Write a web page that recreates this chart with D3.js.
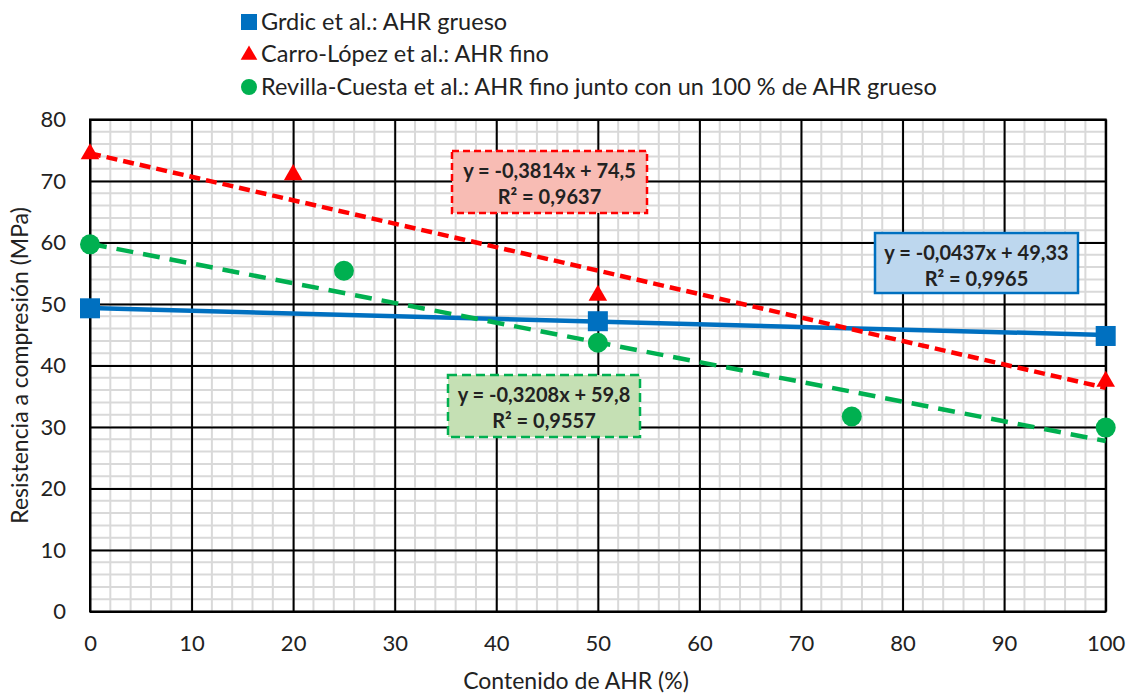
<!DOCTYPE html>
<html lang="es">
<head>
<meta charset="utf-8">
<title>Resistencia a compresión vs contenido de AHR</title>
<script src="https://d3js.org/d3.v7.min.js"></script>
<style>
  body { margin: 0; background: #fff; }
  text { font-family: Lato, "Open Sans", sans-serif; fill: #222; }
</style>
</head>
<body>
<script>
// datos
var grdicX = [0, 50, 100],
    grdicY = [49.3, 47.2, 44.8];
var carroX = [0, 20, 50, 100],
    carroY = [74.4, 71.0, 51.4, 37.4];
var revillaX = [0, 25, 50, 75, 100],
    revillaY = [59.7, 55.4, 43.7, 31.7, 29.9];

// lineas de tendencia (pendiente, ordenada) y etiquetas
var trendSlopes = [-0.0437, -0.3814, -0.3208],
    trendIntercepts = [49.33, 74.5, 59.8];
var trendEq = ["y = -0,0437x + 49,33", "y = -0,3814x + 74,5", "y = -0,3208x + 59,8"],
    trendR2 = ["R² = 0,9965", "R² = 0,9637", "R² = 0,9557"];

var legendLabels = ["Grdic et al.: AHR grueso",
                    "Carro-López et al.: AHR fino",
                    "Revilla-Cuesta et al.: AHR fino junto con un 100 % de AHR grueso"];

var xTicks = d3.range(0, 101, 10),
    yTicks = d3.range(0, 81, 10);

var width = 1127, height = 693;
var blue = "#0070C0", red = "#FF0000", green = "#00B050";

var svg = d3.select("body").append("svg")
    .attr("width", width)
    .attr("height", height);

var x = d3.scaleLinear().domain([0, 100]).range([90, 1105.7]);
var y = d3.scaleLinear().domain([0, 80]).range([611.5, 119.5]);

// rejilla menor
var grid = svg.append("g");
grid.selectAll(".vminor")
    .data(d3.range(0, 101, 2))
    .enter().append("line")
    .attr("x1", d => x(d)).attr("x2", d => x(d))
    .attr("y1", y(0)).attr("y2", y(80))
    .attr("stroke", "#d9d9d9").attr("stroke-width", 2);
grid.selectAll(".hminor")
    .data(d3.range(0, 81, 2))
    .enter().append("line")
    .attr("y1", d => y(d)).attr("y2", d => y(d))
    .attr("x1", x(0)).attr("x2", x(100))
    .attr("stroke", "#d9d9d9").attr("stroke-width", 2);

// rejilla mayor (ejes d3 con ticks largos)
svg.append("g")
    .attr("transform", "translate(0," + y(0) + ")")
    .call(d3.axisBottom(x).tickValues(xTicks).tickSize(-(y(0) - y(80))).tickFormat(""))
    .call(g => g.select(".domain").remove())
    .selectAll("line").attr("stroke", "#000").attr("stroke-width", 2);
svg.append("g")
    .attr("transform", "translate(" + x(0) + ",0)")
    .call(d3.axisLeft(y).tickValues(yTicks).tickSize(-(x(100) - x(0))).tickFormat(""))
    .call(g => g.select(".domain").remove())
    .selectAll("line").attr("stroke", "#000").attr("stroke-width", 2);

svg.append("rect")
    .attr("x", x(0)).attr("y", y(80))
    .attr("width", x(100) - x(0)).attr("height", y(0) - y(80))
    .attr("fill", "none").attr("stroke", "#000").attr("stroke-width", 2);

// etiquetas de ejes
var xAx = svg.append("g")
    .attr("transform", "translate(0," + y(0) + ")")
    .call(d3.axisBottom(x).tickValues(xTicks).tickSize(0).tickPadding(24));
xAx.select(".domain").remove();
xAx.selectAll("text").attr("font-size", 22).style("font-family", "Lato, sans-serif").attr("fill", "#222");

var yAx = svg.append("g")
    .attr("transform", "translate(" + x(0) + ",0)")
    .call(d3.axisLeft(y).tickValues(yTicks).tickSize(0).tickPadding(24));
yAx.select(".domain").remove();
yAx.selectAll("text").attr("font-size", 22).style("font-family", "Lato, sans-serif").attr("fill", "#222");

svg.append("text")
    .attr("x", 576).attr("y", 689)
    .attr("text-anchor", "middle").attr("font-size", 23)
    .text("Contenido de AHR (%)");
svg.append("text")
    .attr("transform", "translate(28," + ((y(0) + y(80)) / 2) + ") rotate(-90)")
    .attr("text-anchor", "middle").attr("font-size", 23)
    .text("Resistencia a compresión (MPa)");

// lineas de tendencia
var trendColors = [blue, red, green],
    trendDash = [null, "11,6", "17,10"];
trendSlopes.forEach(function(m, i) {
    svg.append("line")
        .attr("x1", x(0)).attr("y1", y(trendIntercepts[i]))
        .attr("x2", x(100)).attr("y2", y(trendIntercepts[i] + m * 100))
        .attr("stroke", trendColors[i])
        .attr("stroke-width", 4.5)
        .attr("stroke-dasharray", trendDash[i]);
});

// puntos
function pts(xs, ys) { return xs.map((v, i) => [v, ys[i]]); }

svg.selectAll(".sq")
    .data(pts(grdicX, grdicY))
    .enter().append("rect")
    .attr("x", d => x(d[0]) - 10).attr("y", d => y(d[1]) - 10)
    .attr("width", 20).attr("height", 20)
    .attr("fill", blue);

var tri = d3.symbol().type(d3.symbolTriangle).size(150);
svg.selectAll(".tri")
    .data(pts(carroX, carroY))
    .enter().append("path")
    .attr("d", tri)
    .attr("transform", d => "translate(" + x(d[0]) + "," + y(d[1]) + ")")
    .attr("fill", red);

svg.selectAll(".circ")
    .data(pts(revillaX, revillaY))
    .enter().append("circle")
    .attr("cx", d => x(d[0])).attr("cy", d => y(d[1]))
    .attr("r", 10)
    .attr("fill", green);

// cajas de ecuaciones
var boxes = [
    {x: 875, y: 233, w: 203, h: 60, fill: "#BDD7EE", stroke: blue, dash: null},
    {x: 452, y: 151, w: 195, h: 62, fill: "#F8BCB4", stroke: red, dash: "7,4"},
    {x: 448, y: 375, w: 192, h: 62, fill: "#C5E0B4", stroke: green, dash: "9,5"}
];
boxes.forEach(function(b, i) {
    var g = svg.append("g");
    g.append("rect")
        .attr("x", b.x).attr("y", b.y).attr("width", b.w).attr("height", b.h)
        .attr("fill", b.fill).attr("stroke", b.stroke)
        .attr("stroke-width", 2.5).attr("stroke-dasharray", b.dash);
    g.append("text")
        .attr("x", b.x + b.w / 2).attr("y", b.y + 27)
        .attr("text-anchor", "middle").attr("font-size", 20).attr("font-weight", "bold")
        .text(trendEq[i]);
    g.append("text")
        .attr("x", b.x + b.w / 2).attr("y", b.y + 53)
        .attr("text-anchor", "middle").attr("font-size", 20).attr("font-weight", "bold")
        .text(trendR2[i]);
});

// leyenda
var leg = svg.append("g");
var legY = [22, 54, 87];
leg.append("rect").attr("x", 241).attr("y", legY[0] - 8).attr("width", 16).attr("height", 16).attr("fill", blue);
leg.append("path").attr("d", d3.symbol().type(d3.symbolTriangle).size(120))
    .attr("transform", "translate(249," + (legY[1] + 1) + ")").attr("fill", red);
leg.append("circle").attr("cx", 249).attr("cy", legY[2]).attr("r", 8).attr("fill", green);
leg.selectAll(".lt")
    .data(legendLabels)
    .enter().append("text")
    .attr("x", 261).attr("y", (d, i) => legY[i] + 8)
    .attr("font-size", 23.5)
    .text(d => d);
</script>
</body>
</html>
